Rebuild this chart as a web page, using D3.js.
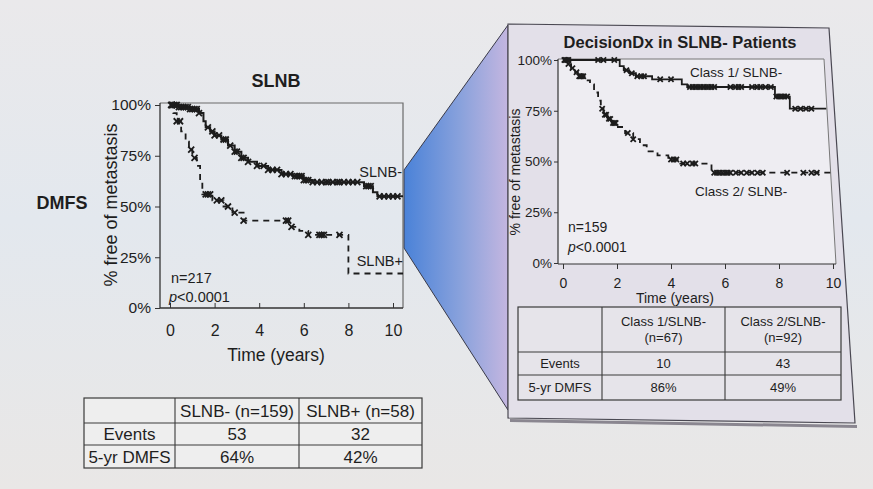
<!DOCTYPE html>
<html><head><meta charset="utf-8">
<script src="https://cdn.jsdelivr.net/npm/d3@7"></script>
<style>
html,body{margin:0;padding:0;overflow:hidden;background:#e6e6e8;}
text{font-family:"Liberation Sans",Arial,sans-serif;fill:#1e1e1e;}
</style></head>
<body>
<svg id="c" width="873" height="489"></svg>
<script>
// ---------- data ----------
const pctTicks = [0, 25, 50, 75, 100];
const yearTicks = [0, 2, 4, 6, 8, 10];

// Left KM: SLNB- (solid) and SLNB+ (dashed)
const slnbNegTimes = [0, 0.4, 0.9, 1.3, 1.5, 1.6, 1.8, 2.0, 2.3, 2.6, 2.9, 3.2, 3.5, 3.9, 4.4, 5.0, 5.5, 6.0, 6.4, 8.7, 9.1, 9.3];
const slnbNegSurv  = [100, 99, 98, 96, 92, 89, 87, 85, 83, 80, 77, 74, 72, 70, 68, 66, 65, 63, 62, 60, 57, 55];
const slnbNegEnd = 10.45;
const slnbNegCensor = [0.05,0.1,0.2,0.3,0.4,0.5,0.6,0.7,0.8,0.9,1.0,1.1,1.2,1.3,1.7,1.9,2.0,2.2,2.4,2.5,2.7,2.9,3.0,3.2,3.3,3.5,3.9,4.2,4.4,4.6,4.8,5.0,5.2,5.4,5.6,5.7,5.8,5.9,6.0,6.1,6.2,6.4,6.6,6.8,7.0,7.1,7.3,7.5,7.6,7.8,8.0,8.2,8.4,8.8,8.9,9.0,9.4,9.6,9.8,10.0,10.2];

const slnbPosTimes = [0, 0.15, 0.3, 0.5, 0.7, 0.85, 1.0, 1.2, 1.35, 1.45, 1.9, 2.4, 2.8, 3.3, 5.35, 5.8, 6.2, 8.0];
const slnbPosSurv  = [100, 96, 92, 87, 82, 78, 74, 70, 63, 56, 53, 50, 47, 43, 40, 38, 36, 17];
const slnbPosEnd = 10.45;
const slnbPosCensor = [0.1,0.3,0.45,0.95,1.1,1.6,1.7,1.8,2.1,2.3,2.6,2.9,3.3,5.2,5.3,5.45,6.2,6.7,6.8,6.9,7.6];

// Right KM: Class 1 (solid) and Class 2 (dashed)
const class1Times = [0, 2.1, 2.25, 2.45, 2.7, 3.3, 4.4, 4.6, 7.85, 8.4];
const class1Surv  = [100, 97, 95, 93.5, 92, 90.5, 88, 86.7, 82, 76];
const class1End = 9.75;
const class1Censor = [0.05,0.1,0.15,0.2,1.3,1.5,1.9,2.35,2.55,2.75,2.9,3.0,3.6,4.0,4.7,4.8,4.9,5.0,5.1,5.2,5.3,5.4,5.5,5.6,6.2,6.4,6.5,6.6,7.0,7.2,7.3,7.5,7.7,7.9,8.0,8.1,8.2,8.3,8.6,8.8,9.0,9.2];

const class2Times = [0, 0.15, 0.3, 0.45, 0.6, 0.8, 1.0, 1.15, 1.3, 1.4, 1.5, 1.65, 1.8, 2.0, 2.3, 2.6, 2.85, 3.1, 3.5, 3.9, 4.3, 5.5];
const class2Surv  = [100, 98, 96, 94, 92, 90, 88, 84, 80, 76, 73, 71, 69, 67, 64, 61, 58, 55, 53, 51, 49, 44.5];
const class2End = 9.9;
const class2Censor = [0.2,0.35,0.5,0.6,0.65,0.7,0.75,1.45,1.55,1.6,1.7,1.75,1.85,1.9,1.95,2.4,2.6,4.0,4.1,4.2,4.45,4.6,4.8,4.9,5.6,5.7,5.8,5.9,6.0,6.1,6.2,6.4,6.6,6.8,7.0,7.2,7.4,8.3,8.9,9.2,9.4];

// Tables
const leftTableHeader = ["", "SLNB- (n=159)", "SLNB+ (n=58)"];
const leftTableRows = [["Events", "53", "32"], ["5-yr DMFS", "64%", "42%"]];
const rightTableHeader = ["", ["Class 1/SLNB-", "(n=67)"], ["Class 2/SLNB-", "(n=92)"]];
const rightTableRows = [["Events", "10", "43"], ["5-yr DMFS", "86%", "49%"]];

// ---------- drawing ----------
const svg = d3.select("#c");
const defs = svg.append("defs");

const bg = defs.append("linearGradient").attr("id","bg").attr("x1",0).attr("y1",0).attr("x2",0).attr("y2",1);
bg.append("stop").attr("offset","0%").attr("stop-color","#eae9eb");
bg.append("stop").attr("offset","45%").attr("stop-color","#e3e8ee");
bg.append("stop").attr("offset","100%").attr("stop-color","#e9e7e6");
svg.append("rect").attr("width",873).attr("height",489).attr("fill","url(#bg)");

// connector trapezoid
const cg = defs.append("linearGradient").attr("id","conn").attr("x1",0).attr("y1",0).attr("x2",1).attr("y2",0);
cg.append("stop").attr("offset","0%").attr("stop-color","#4a82d8");
cg.append("stop").attr("offset","55%").attr("stop-color","#8aa2dc");
cg.append("stop").attr("offset","100%").attr("stop-color","#c4b6e0");
svg.append("polygon").attr("points","404,170 508,25 508,410 404,248")
  .attr("fill","url(#conn)").attr("stroke","#3a3a48").attr("stroke-width",1);

// right panel
svg.append("polygon").attr("points","510,419 857,425 857,428 510,422").attr("fill","#8a8690");
svg.append("polygon").attr("points","508,24 829,28 855,423 508,418")
  .attr("fill","#e3e0e9").attr("stroke","#4a4852").attr("stroke-width",1.2);

function survAt(times, surv, t){
  let s = surv[0];
  for (let i=0;i<times.length;i++){ if (times[i] <= t) s = surv[i]; }
  return s;
}

function drawKM(g, x, y, times, surv, end, censor, dashed, sw, cs){
  const pts = times.map((t,i)=>[t, surv[i]]);
  pts.push([end, surv[surv.length-1]]);
  const line = d3.line().x(d=>x(d[0])).y(d=>y(d[1])).curve(d3.curveStepAfter);
  g.append("path").attr("d", line(pts)).attr("fill","none")
    .attr("stroke","#1c1c1c").attr("stroke-width",sw)
    .attr("stroke-dasharray", dashed ? "6,5" : null);
  const cm = g.append("g");
  censor.forEach(t=>{
    const cx = x(t), cy = y(survAt(times, surv, t));
    cm.append("path").attr("d",`M${cx-cs},${cy-cs}L${cx+cs},${cy+cs}M${cx-cs},${cy+cs}L${cx+cs},${cy-cs}`)
      .attr("stroke","#1c1c1c").attr("stroke-width",1.8);
  });
}

// ---------- Left chart ----------
const xL = d3.scaleLinear().domain([0,10]).range([170, 393]);
const yL = d3.scaleLinear().domain([0,100]).range([308, 105]);
const gL = svg.append("g");
gL.append("path").attr("d","M160,103 L403,103 L403,308").attr("fill","none").attr("stroke","#6a6a6a").attr("stroke-width",1.2);
const axL = gL.append("g").attr("transform","translate(160,0)")
  .call(d3.axisLeft(yL).tickValues(pctTicks).tickFormat(d=>d+"%").tickSize(5).tickSizeOuter(0).tickPadding(4));
axL.select(".domain").attr("d","M0,103V308").attr("stroke","#333").attr("stroke-width",1.3);
axL.selectAll("text").style("font-size","15.5px").attr("fill","#1e1e1e");
axL.selectAll(".tick line").attr("stroke","#333");
const axLx = gL.append("g").attr("transform","translate(0,308)")
  .call(d3.axisBottom(xL).tickValues(yearTicks).tickSize(5).tickSizeOuter(0).tickPadding(12));
axLx.select(".domain").attr("d","M160,0H403").attr("stroke","#333").attr("stroke-width",1.3);
axLx.selectAll("text").style("font-size","16px").attr("fill","#1e1e1e");
axLx.selectAll(".tick line").attr("stroke","#333").attr("y2",-5);

drawKM(gL, xL, yL, slnbNegTimes, slnbNegSurv, slnbNegEnd, slnbNegCensor, false, 2, 3);
drawKM(gL, xL, yL, slnbPosTimes, slnbPosSurv, slnbPosEnd, slnbPosCensor, true, 1.8, 3);

svg.append("text").attr("x",276).attr("y",87).attr("text-anchor","middle").style("font-size","18px").style("font-weight","bold").text("SLNB");
svg.append("text").attr("x",62).attr("y",209).attr("text-anchor","middle").style("font-size","18px").style("font-weight","bold").text("DMFS");
svg.append("text").attr("transform","translate(117,205) rotate(-90)").attr("text-anchor","middle").style("font-size","18px").text("% free of metastasis");
svg.append("text").attr("x",276).attr("y",361).attr("text-anchor","middle").style("font-size","17.5px").text("Time (years)");
svg.append("text").attr("x",402).attr("y",177).attr("text-anchor","end").style("font-size","14.5px").text("SLNB-");
svg.append("text").attr("x",403).attr("y",266).attr("text-anchor","end").style("font-size","14.5px").text("SLNB+");
svg.append("text").attr("x",171).attr("y",283).style("font-size","14.5px").text("n=217");
const pL = svg.append("text").attr("x",169).attr("y",302).style("font-size","14.5px");
pL.append("tspan").style("font-style","italic").text("p");
pL.append("tspan").text("<0.0001");

// ---------- Right chart ----------
const xR = d3.scaleLinear().domain([0,10]).range([563, 833]);
const yR = d3.scaleLinear().domain([0,100]).range([263, 60]);
const gR = svg.append("g");
gR.append("polygon").attr("points","558,59 824,59 836,264 558,264").attr("fill","#eeedf2");
gR.append("path").attr("d","M558,59 L824,59 L836,264").attr("fill","none").attr("stroke","#777").attr("stroke-width",1);
const axR = gR.append("g").attr("transform","translate(558,0)")
  .call(d3.axisLeft(yR).tickValues(pctTicks).tickFormat(d=>d+"%").tickSize(4).tickSizeOuter(0).tickPadding(2));
axR.select(".domain").attr("d","M0,59V264").attr("stroke","#333").attr("stroke-width",1.2);
axR.selectAll("text").style("font-size","13.5px").attr("fill","#1e1e1e");
axR.selectAll(".tick line").attr("stroke","#333");
const axRx = gR.append("g").attr("transform","translate(0,264)")
  .call(d3.axisBottom(xR).tickValues(yearTicks).tickSize(5).tickSizeOuter(0).tickPadding(9));
axRx.select(".domain").attr("d","M558,0H836").attr("stroke","#333").attr("stroke-width",1.2);
axRx.selectAll("text").style("font-size","14px").attr("fill","#222");
axRx.selectAll(".tick line").attr("stroke","#333");

drawKM(gR, xR, yR, class1Times, class1Surv, class1End, class1Censor, false, 1.8, 2.6);
drawKM(gR, xR, yR, class2Times, class2Surv, class2End, class2Censor, true, 1.8, 2.6);

svg.append("text").attr("x",680).attr("y",48).attr("text-anchor","middle").style("font-size","16.5px").style("font-weight","bold").text("DecisionDx in SLNB- Patients");
svg.append("text").attr("transform","translate(520,172) rotate(-90)").attr("text-anchor","middle").style("font-size","14px").text("% free of metastasis");
svg.append("text").attr("x",690).attr("y",77).style("font-size","13.5px").attr("fill","#3a3a3a").text("Class 1/ SLNB-");
svg.append("text").attr("x",695).attr("y",196).style("font-size","13.5px").attr("fill","#3a3a3a").text("Class 2/ SLNB-");
svg.append("text").attr("x",568).attr("y",232).style("font-size","14px").text("n=159");
const pR = svg.append("text").attr("x",568).attr("y",252).style("font-size","14px");
pR.append("tspan").style("font-style","italic").text("p");
pR.append("tspan").text("<0.0001");
svg.append("text").attr("x",675).attr("y",303).attr("text-anchor","middle").style("font-size","14px").text("Time (years)");

// ---------- Tables ----------
function drawTable(colX, rowY, header, rows, fs, fill){
  const g = svg.append("g");
  g.append("rect").attr("x",colX[0]).attr("y",rowY[0]).attr("width",colX[colX.length-1]-colX[0])
    .attr("height",rowY[rowY.length-1]-rowY[0]).attr("fill",fill).attr("stroke","#3a3a3a").attr("stroke-width",1.2);
  colX.slice(1,-1).forEach(x=>g.append("line").attr("x1",x).attr("x2",x).attr("y1",rowY[0]).attr("y2",rowY[rowY.length-1]).attr("stroke","#3a3a3a").attr("stroke-width",1.1));
  rowY.slice(1,-1).forEach(y=>g.append("line").attr("x1",colX[0]).attr("x2",colX[colX.length-1]).attr("y1",y).attr("y2",y).attr("stroke","#3a3a3a").attr("stroke-width",1.1));
  const all = [header].concat(rows);
  all.forEach((r,ri)=>{
    const cy = (rowY[ri]+rowY[ri+1])/2;
    r.forEach((c,ci)=>{
      const cx = (colX[ci]+colX[ci+1])/2;
      const lines = Array.isArray(c) ? c : [c];
      lines.forEach((ln,li)=>{
        g.append("text").attr("x",cx).attr("y",cy + (li-(lines.length-1)/2)*(fs+3)).attr("dy","0.36em")
          .attr("text-anchor","middle").style("font-size",fs+"px").text(ln);
      });
    });
  });
}
drawTable([84,175,299,422],[398,423,445,468], leftTableHeader, leftTableRows, 17, "#eeeeee");
drawTable([518,602,725,841],[307,352,375,400], rightTableHeader, rightTableRows, 13, "#e6e4ea");
</script>
</body></html>
